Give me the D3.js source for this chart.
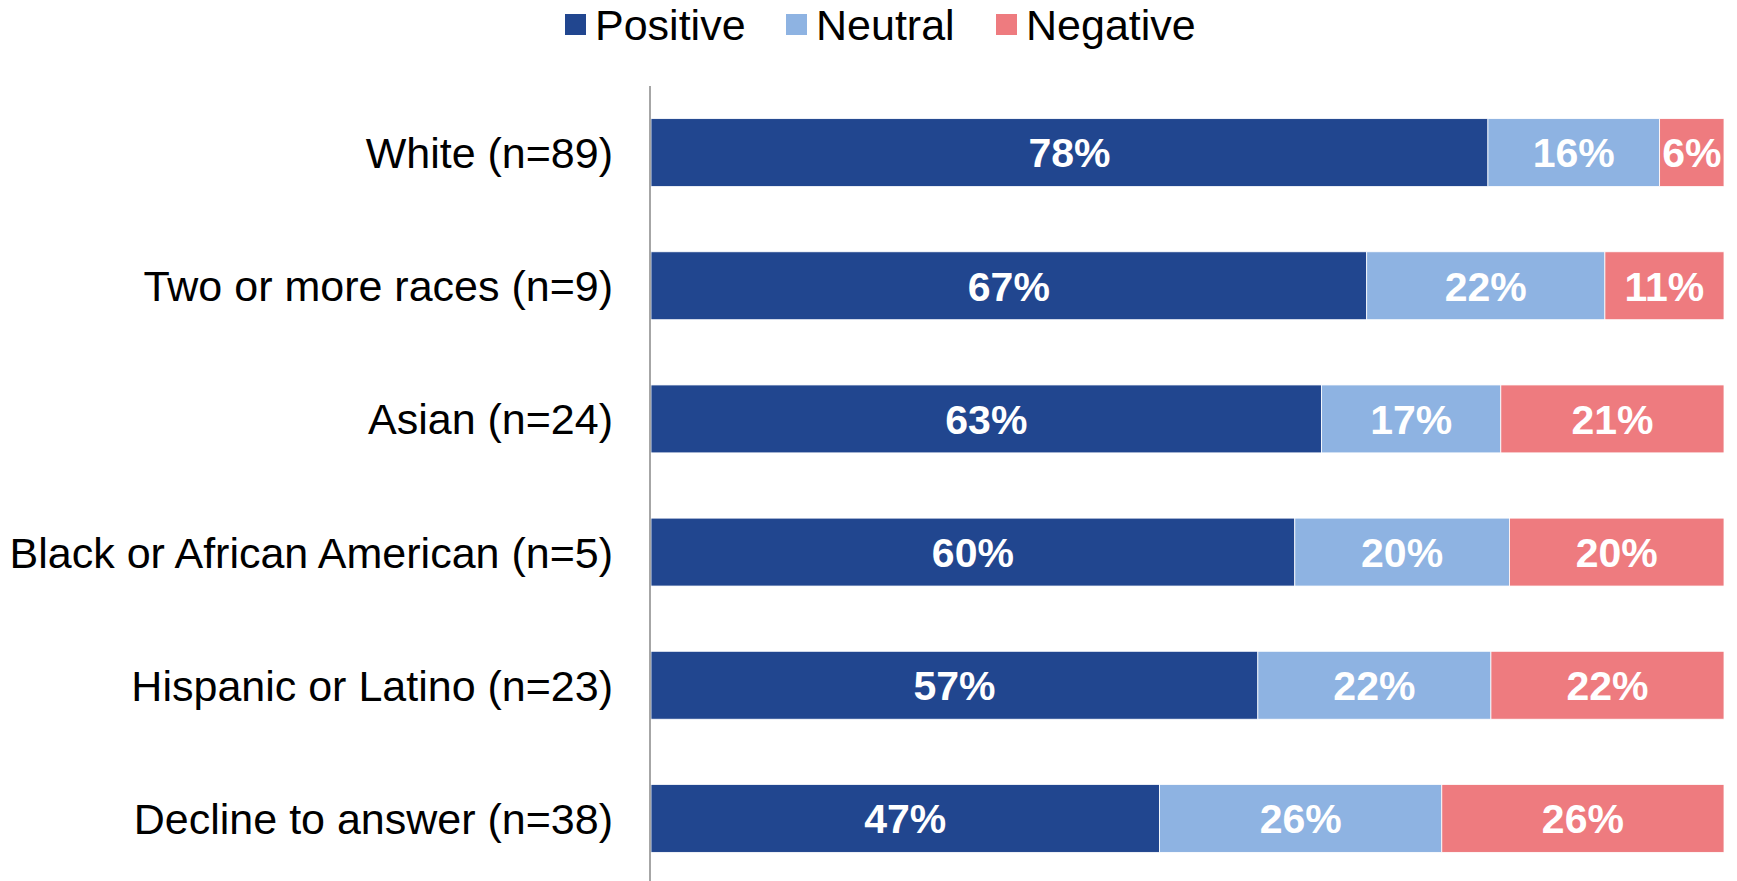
<!DOCTYPE html>
<html><head><meta charset="utf-8">
<script src="https://cdn.jsdelivr.net/npm/d3@7"></script>
<style>html,body{margin:0;padding:0;background:#fff;}svg{display:block;}</style>
</head><body>
<svg id="chart" width="1737" height="881"></svg>
<script>
const categories = ["White (n=89)", "Two or more races (n=9)", "Asian (n=24)", "Black or African American (n=5)", "Hispanic or Latino (n=23)", "Decline to answer (n=38)"];
const seriesNames = ["Positive", "Neutral", "Negative"];
const positive = [78, 66.7, 62.5, 60, 56.5, 47.4];
const neutral  = [16, 22.2, 16.7, 20, 21.7, 26.3];
const negative = [6, 11.1, 20.8, 20, 21.7, 26.3];
const colors = ["#21468F", "#8EB3E2", "#EE7B7F"];

const svg = d3.select("#chart");
const font = "'Liberation Sans', Arial, sans-serif";

const rows = categories.map((c, i) => {
  const vals = [positive[i], neutral[i], negative[i]];
  const total = d3.sum(vals);
  return { cat: c, vals: vals.map(v => v / total * 100) };
});

const x = d3.scaleLinear().domain([0, 100]).range([651, 1724]);
const y = d3.scaleBand().domain(categories).range([86, 885]).paddingInner(0.49).paddingOuter(0.245);

const stack = d3.stack().keys([0, 1, 2]).value((d, k) => d.vals[k]);
const layers = stack(rows);

const g = svg.append("g");
layers.forEach((layer, k) => {
  g.selectAll(null).data(layer).join("rect")
    .attr("x", d => x(d[0]))
    .attr("y", d => y(d.data.cat))
    .attr("width", d => x(d[1]) - x(d[0]))
    .attr("height", y.bandwidth())
    .attr("fill", colors[k])
    .attr("stroke", "#fff").attr("stroke-width", 0.8);
  g.selectAll(null).data(layer).join("text")
    .attr("x", d => (x(d[0]) + x(d[1])) / 2)
    .attr("y", d => y(d.data.cat) + y.bandwidth() / 2)
    .attr("dy", "0.36em")
    .attr("text-anchor", "middle")
    .attr("fill", "#fff")
    .attr("font-family", font).attr("font-weight", "bold").attr("font-size", 41)
    .text((d, i) => Math.round([positive, neutral, negative][k][i]) + "%");
});

// category axis
const yAxis = d3.axisLeft(y).tickSize(0).tickPadding(37);
const ya = svg.append("g").attr("transform", "translate(650,0)").call(yAxis);
ya.select(".domain").remove();
ya.selectAll("text").attr("font-family", font).attr("font-size", 43).attr("fill", "#000").attr("dy", "0.36em");
svg.append("line").attr("x1", 650).attr("x2", 650).attr("y1", 86).attr("y2", 881)
  .attr("stroke", "#A6A6A6").attr("stroke-width", 2);

// legend
const legendX = [565, 786, 996];
const lg = svg.append("g");
seriesNames.forEach((s, k) => {
  lg.append("rect").attr("x", legendX[k]).attr("y", 14).attr("width", 21).attr("height", 21).attr("fill", colors[k]);
  lg.append("text").attr("x", legendX[k] + 30).attr("y", 24.5).attr("dy", "0.36em")
    .attr("font-family", font).attr("font-size", 43).attr("fill", "#000").text(s);
});
</script>
</body></html>
